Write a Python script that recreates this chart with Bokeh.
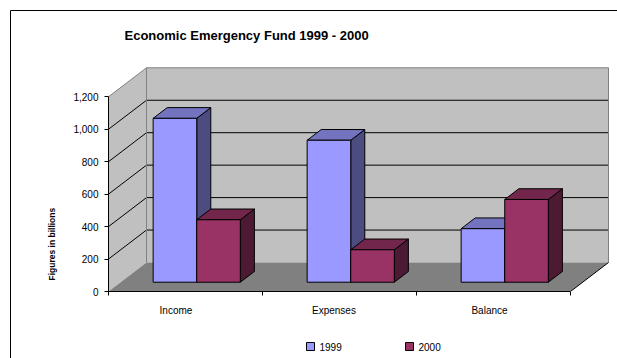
from bokeh.plotting import figure
from bokeh.models import (Range1d, LinearAxis, FixedTicker, NumeralTickFormatter,
                          Title, ColumnDataSource)
from bokeh.core.properties import value
from bokeh.embed import file_html
from bokeh.resources import INLINE

# ---------------- data ----------------
categories = ["Income", "Expenses", "Balance"]
series_names = ["1999", "2000"]
values_1999 = [1010, 875, 330]
values_2000 = [385, 200, 510]
y_ticks = [0, 200, 400, 600, 800, 1000, 1200]

# ---------------- layout / style constants ----------------
W, H = 617, 358
FRAME_LEFT, FRAME_RIGHT = 108, 612
FRAME_TOP, FRAME_BOTTOM = 58, 291
PX_PER_CAT = 154.0
PX_PER_UNIT = 0.16225
DEPTH_X_PX, DEPTH_Y_PX = 38.0, 29.0
DDX = DEPTH_X_PX / PX_PER_CAT
DDY = DEPTH_Y_PX / PX_PER_UNIT
T0, T1 = 0.32, 0.69          # bar depth span (fraction of floor depth)
BAR_START, BAR_W = 0.211, 0.283
LABEL_NUDGE_PX = [-9.5, -5.5, -4.0]
LEGEND_X_PX = [306, 405]     # screen x of legend swatches
LEGEND_Y_PX = 346            # screen y of legend centre
Y_MAX = y_ticks[-1]
N = len(categories)

front_colors = ["#9999FF", "#993366"]
top_colors = ["#7373BF", "#73264C"]
side_colors = ["#4C4C80", "#4C1A33"]


def sx(px):  # screen x -> data x
    return (px - FRAME_LEFT) / PX_PER_CAT


def sy(py):  # screen y -> data y
    return (FRAME_BOTTOM - py) / PX_PER_UNIT


x_end = (FRAME_RIGHT - FRAME_LEFT) / PX_PER_CAT
y_end = (FRAME_BOTTOM - FRAME_TOP) / PX_PER_UNIT

p = figure(width=W, height=H, x_range=Range1d(0, x_end), y_range=Range1d(0, y_end),
           x_axis_type=None, y_axis_type=None, toolbar_location=None,
           output_backend="svg",
           min_border_left=FRAME_LEFT, min_border_right=W - FRAME_RIGHT,
           min_border_top=FRAME_TOP, min_border_bottom=H - FRAME_BOTTOM)
p.outline_line_color = None
p.background_fill_color = "white"
p.border_fill_color = "white"

FONT = "Liberation Sans"

# title
p.title.text = "Economic Emergency Fund 1999 - 2000"
p.title.align = "left"
p.title.offset = 16
p.title.standoff = 31
p.title.text_font = FONT
p.title.text_font_size = "13px"
p.title.text_font_style = "bold"
p.title.text_color = "black"

# ---------------- walls & floor ----------------
p.patch([DDX, N + DDX, N + DDX, DDX], [DDY, DDY, Y_MAX + DDY, Y_MAX + DDY],
        fill_color="#C0C0C0", line_color=None)
p.patch([0, DDX, DDX, 0], [0, DDY, Y_MAX + DDY, Y_MAX],
        fill_color="#C0C0C0", line_color=None)
p.patch([0, N, N + DDX, DDX], [0, 0, DDY, DDY], fill_color="#808080", line_color=None)

gx, gy = [], []
for v in y_ticks[1:-1]:
    gx.append([0, DDX, N + DDX])
    gy.append([v, v + DDY, v + DDY])
p.multi_line(gx, gy, line_color="black", line_width=1)
p.line([0, DDX, DDX], [Y_MAX, Y_MAX + DDY, DDY], line_color="#808080", line_width=1)
p.line([DDX, N + DDX, N + DDX], [Y_MAX + DDY, Y_MAX + DDY, DDY], line_color="#808080", line_width=1)
p.line([N, N + DDX], [0, DDY], line_color="black", line_width=1)

# ---------------- bars ----------------
for si, vals in enumerate([values_1999, values_2000]):
    side_xs, side_ys, top_xs, top_ys = [], [], [], []
    fl, fr, fb, ft = [], [], [], []
    for ci, v in enumerate(vals):
        left = ci + BAR_START + si * BAR_W
        right = left + BAR_W
        side_xs.append([right + T0 * DDX, right + T1 * DDX, right + T1 * DDX, right + T0 * DDX])
        side_ys.append([T0 * DDY, T1 * DDY, v + T1 * DDY, v + T0 * DDY])
        top_xs.append([left + T0 * DDX, right + T0 * DDX, right + T1 * DDX, left + T1 * DDX])
        top_ys.append([v + T0 * DDY, v + T0 * DDY, v + T1 * DDY, v + T1 * DDY])
        fl.append(left + T0 * DDX)
        fr.append(right + T0 * DDX)
        fb.append(T0 * DDY)
        ft.append(v + T0 * DDY)
    p.patches(side_xs, side_ys, fill_color=side_colors[si], line_color="black", line_width=1)
    p.patches(top_xs, top_ys, fill_color=top_colors[si], line_color="black", line_width=1)
    src = ColumnDataSource(dict(left=fl, right=fr, bottom=fb, top=ft))
    p.quad(left="left", right="right", bottom="bottom", top="top", source=src,
           fill_color=front_colors[si], line_color="black", line_width=1)

# ---------------- axes ----------------
yaxis = LinearAxis(bounds=(0, Y_MAX), ticker=FixedTicker(ticks=y_ticks),
                   formatter=NumeralTickFormatter(format="0,0"),
                   major_tick_out=4, major_tick_in=0, minor_tick_out=0, minor_tick_in=0,
                   major_label_standoff=6, major_label_text_font=FONT,
                   major_label_text_font_size="10px", major_label_text_color="black",
                   axis_line_color="black", major_tick_line_color="black")
p.add_layout(yaxis, "left")

label_pos = [round(i + 0.5 + LABEL_NUDGE_PX[i] / PX_PER_CAT, 3) for i in range(N)]
xaxis = LinearAxis(bounds=(0, N),
                   ticker=FixedTicker(ticks=label_pos, minor_ticks=list(range(N + 1))),
                   major_label_overrides={label_pos[i]: categories[i] for i in range(N)},
                   major_tick_out=0, major_tick_in=0, minor_tick_out=4, minor_tick_in=0,
                   major_label_standoff=9, major_label_text_font=FONT,
                   major_label_text_font_size="10px", major_label_text_color="black",
                   axis_line_color="black", minor_tick_line_color="black")
p.add_layout(xaxis, "below")

ytitle = Title(text="Figures in billions", align="left", offset=11, standoff=28,
               text_font=FONT, text_font_size="8.5px", text_font_style="bold",
               text_color="black")
p.add_layout(ytitle, "left")

# ---------------- legend (drawn below the plot area) ----------------
leg_src = ColumnDataSource(dict(
    left=[sx(x) for x in LEGEND_X_PX],
    right=[sx(x + 8) for x in LEGEND_X_PX],
    bottom=[sy(LEGEND_Y_PX + 4)] * len(series_names),
    top=[sy(LEGEND_Y_PX - 4)] * len(series_names),
    tx=[sx(x + 13) for x in LEGEND_X_PX],
    ty=[sy(LEGEND_Y_PX)] * len(series_names),
    color=front_colors,
    label=series_names,
))
p.quad(left="left", right="right", bottom="bottom", top="top", source=leg_src,
       fill_color="color", line_color="black", line_width=1, level="overlay")
p.text(x="tx", y="ty", text="label", source=leg_src, text_font=value(FONT),
       text_font_size="10px", text_baseline="middle", text_align="left",
       text_color="black", level="overlay")

# ---------------- outer chart border ----------------
p.line([sx(10), sx(10), sx(W + 5)], [sy(H + 5), sy(10), sy(10)],
       line_color="black", line_width=1, level="overlay")

open("out.html", "w").write(file_html(p, INLINE))
